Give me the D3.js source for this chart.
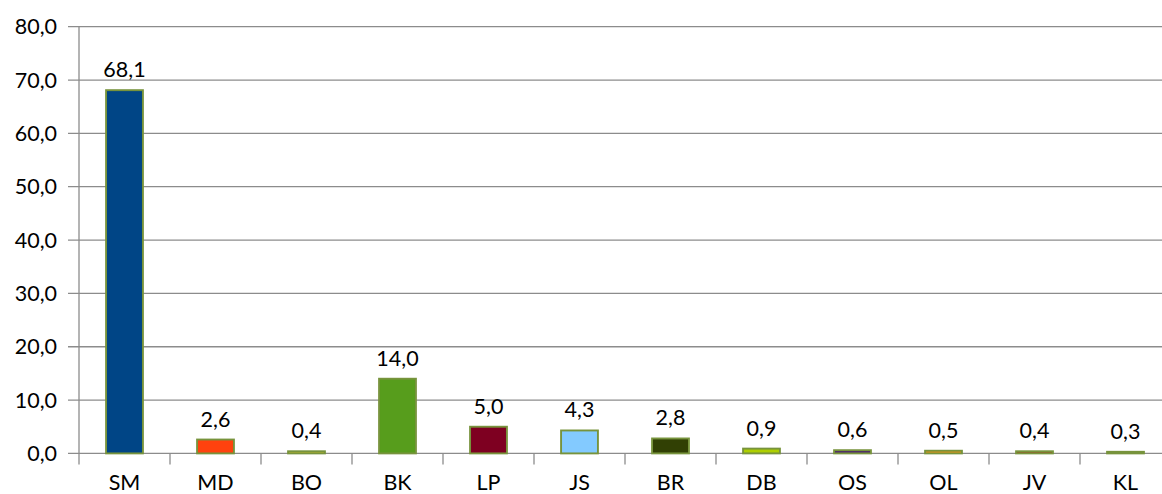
<!DOCTYPE html>
<html>
<head>
<meta charset="utf-8">
<script src="https://cdn.jsdelivr.net/npm/d3@7"></script>
<style>
  html, body { margin: 0; padding: 0; background: #fff; }
  svg { display: block; font-family: Lato, "Open Sans", sans-serif; }
</style>
</head>
<body>
<svg id="chart" width="1162" height="494"></svg>
<script>
// Party shares (%)
const categories = ["SM", "MD", "BO", "BK", "LP", "JS", "BR", "DB", "OS", "OL", "JV", "KL"];
const values = [68.1, 2.6, 0.4, 14.0, 5.0, 4.3, 2.8, 0.9, 0.6, 0.5, 0.4, 0.3];
const barColors = ["#004586", "#ff420e", "#ffd320", "#579d1c", "#7e0021", "#83caff",
                   "#314004", "#aecf00", "#4b1f6f", "#ff950e", "#c5000b", "#0084d1"];
const yTicks = [0, 10, 20, 30, 40, 50, 60, 70, 80];

const svg = d3.select("#chart");
const plotLeft = 79, plotRight = 1171, plotTop = 26.7, plotBottom = 453.4;
const fontSize = 21.5;

const x = d3.scaleBand().domain(categories).range([plotLeft, plotRight]).paddingInner(0).paddingOuter(0);
const y = d3.scaleLinear().domain([0, 80]).range([plotBottom, plotTop]);

const fmt = v => d3.format(".1f")(v).replace(".", ",");

// horizontal grid
svg.append("g").selectAll("line").data(yTicks).join("line")
  .attr("x1", plotLeft - 11).attr("x2", plotRight)
  .attr("y1", d => y(d)).attr("y2", d => y(d))
  .attr("stroke", "#8c8c8c").attr("stroke-width", 1.3);

// y labels
svg.append("g").selectAll("text").data(yTicks).join("text")
  .attr("x", 57).attr("y", d => y(d) + 7.5)
  .attr("text-anchor", "end").attr("font-size", fontSize).attr("fill", "#000")
  .text(fmt);

// y axis line
svg.append("line").attr("x1", plotLeft).attr("x2", plotLeft).attr("y1", plotTop).attr("y2", plotBottom)
  .attr("stroke", "#8c8c8c").attr("stroke-width", 1.3);

// category ticks on the baseline
const bounds = d3.range(categories.length + 1).map(i => plotLeft + i * x.bandwidth());
svg.append("g").selectAll("line").data(bounds).join("line")
  .attr("x1", d => d).attr("x2", d => d)
  .attr("y1", plotBottom).attr("y2", plotBottom + 11)
  .attr("stroke", "#8c8c8c").attr("stroke-width", 1.3);

// bars
const bw = x.bandwidth() * 0.405;
svg.append("g").selectAll("rect").data(categories).join("rect")
  .attr("x", d => x(d) + x.bandwidth() / 2 - bw / 2)
  .attr("width", bw)
  .attr("y", (d, i) => y(values[i]))
  .attr("height", (d, i) => y(0) - y(values[i]))
  .attr("fill", (d, i) => barColors[i])
  .attr("stroke", "#77933c").attr("stroke-width", 1.9);

// value labels
svg.append("g").selectAll("text").data(categories).join("text")
  .attr("x", d => x(d) + x.bandwidth() / 2)
  .attr("y", (d, i) => y(values[i]) - 13)
  .attr("text-anchor", "middle").attr("font-size", fontSize).attr("fill", "#000")
  .text((d, i) => fmt(values[i]));

// category labels
svg.append("g").selectAll("text").data(categories).join("text")
  .attr("x", d => x(d) + x.bandwidth() / 2)
  .attr("y", 490)
  .attr("text-anchor", "middle").attr("font-size", fontSize).attr("fill", "#000")
  .text(d => d);
</script>
</body>
</html>
